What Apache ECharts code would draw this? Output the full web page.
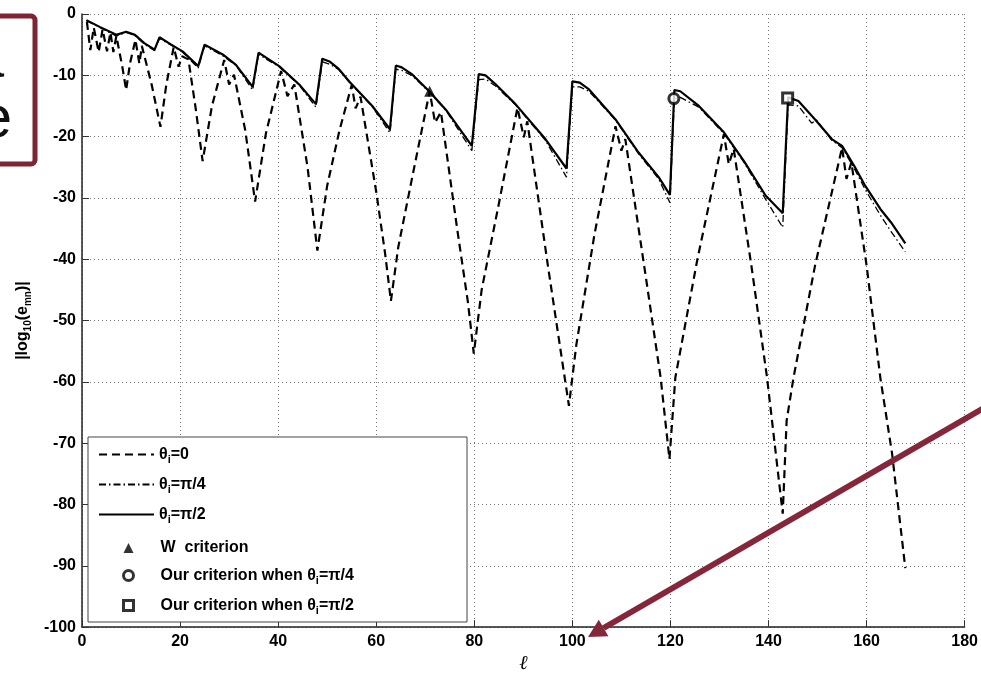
<!DOCTYPE html>
<html>
<head>
<meta charset="utf-8">
<script src="https://cdn.jsdelivr.net/npm/echarts@6/dist/echarts.min.js"></script>
<style>
  html, body { margin: 0; padding: 0; background: #fff; }
  #chart { width: 981px; height: 679px; }
</style>
</head>
<body>
<div id="chart"></div>
<script>
// |log10(e_mn)| versus l
const theta0 = [
  [1,-1.3],[1.7,-5.9],[2.4,-2.2],[3.4,-6.2],[4.2,-2.5],[5.1,-6.1],[5.8,-3.0],[6.4,-6.2],[7.0,-3.6],
  [8.2,-8.5],[9.0,-12.4],[9.8,-8.0],[10.9,-4.2],[11.7,-8.1],[12.2,-5.2],[14.2,-11.5],[16.0,-18.4],
  [17.2,-11.5],[18.7,-5.4],[19.7,-8.6],[20.4,-6.9],[21.7,-7.4],[23.2,-15.5],[24.6,-24.0],[26.5,-15.0],
  [29.0,-7.5],[30.0,-11.5],[31.0,-9.9],[33.3,-19.0],[35.3,-30.6],[37.5,-19.5],[40.6,-9.3],[41.9,-13.4],
  [43.3,-11.5],[46.0,-25.0],[48.0,-38.6],[50.0,-28.0],[52.5,-19.0],[55.0,-11.6],[55.8,-15.4],[56.8,-13.5],
  [60.0,-29.0],[61.8,-39.0],[63.0,-46.8],[64.5,-38.0],[67.5,-26.0],[70.9,-12.6],[72.0,-17.7],[73.2,-16.0],
  [76.5,-35.0],[78.7,-47.0],[79.9,-55.4],[81.5,-45.0],[85.0,-31.0],[88.8,-15.3],[90.1,-20.1],[90.8,-17.5],
  [95.0,-41.0],[98.0,-57.0],[99.3,-63.9],[100.8,-54.0],[104.5,-36.0],[108.8,-18.3],[110.0,-22.3],[110.8,-20.4],
  [115.0,-43.0],[118.0,-59.3],[119.8,-72.6],[121.0,-59.3],[125.5,-40.0],[130.9,-19.6],[131.9,-24.5],[132.9,-22.0],
  [136.5,-41.0],[139.7,-59.3],[142.9,-81.5],[143.7,-66.3],[145.1,-59.3],[149.5,-41.0],[155.0,-21.8],[155.9,-26.9],
  [156.9,-24.2],[160.0,-41.0],[162.8,-59.3],[165.2,-71.7],[167.9,-90.4]
];
const thetaPi4 = [
  [0.9,-1.1],[3.6,-2.2],[7.0,-3.6],[9.0,-3.0],[10.8,-3.5],[12.7,-4.9],[14.8,-6.0],[15.8,-4.0],[18.2,-5.1],
  [20.5,-6.2],[23.7,-8.8],[25.0,-5.2],[28.7,-6.8],[31.4,-8.4],[34.8,-12.4],[36.0,-6.6],[40.2,-8.6],[44.3,-11.6],
  [47.7,-15.2],[49.0,-7.8],[50.6,-8.2],[52.4,-9.1],[54.5,-11.1],[59.2,-15.1],[62.8,-19.4],[64.0,-9.0],[65.2,-9.2],
  [67.4,-10.1],[70.8,-12.7],[74.2,-15.7],[79.5,-22.3],[80.9,-10.7],[82.3,-10.6],[84.4,-11.8],[88.4,-14.8],
  [94.5,-20.6],[98.8,-26.6],[100.0,-11.9],[101.5,-11.9],[103.4,-12.6],[108.8,-17.3],[113.5,-22.8],[117.6,-26.9],
  [119.9,-30.8],[120.8,-13.8],[122.0,-13.6],[125.8,-15.2],[130.9,-19.5],[135.0,-24.2],[139.4,-30.2],[142.9,-34.8],
  [144.0,-14.8],[146.1,-15.0],[148.8,-17.8],[149.8,-17.3],[152.9,-20.6],[155.0,-21.8],[157.5,-25.2],[159.7,-28.6],
  [162.8,-32.8],[165.0,-35.5],[167.9,-38.8]
];
const thetaPi2 = [
  [0.9,-1.0],[3.6,-2.1],[7.0,-3.4],[9.0,-2.9],[10.8,-3.4],[12.7,-4.75],[14.8,-5.8],[15.8,-3.8],[18.2,-5.0],
  [20.5,-6.1],[23.7,-8.5],[25.0,-5.0],[28.7,-6.6],[31.4,-8.3],[34.8,-11.9],[36.0,-6.3],[40.2,-8.5],[44.3,-11.5],
  [47.7,-14.7],[49.0,-7.3],[50.6,-7.8],[52.4,-9.0],[54.5,-11.0],[59.2,-15.0],[62.8,-18.8],[64.0,-8.4],[65.2,-8.7],
  [67.4,-9.9],[70.8,-12.6],[74.2,-15.6],[79.5,-21.5],[80.9,-9.8],[82.3,-10.0],[84.4,-11.5],[88.4,-14.7],
  [94.5,-20.4],[98.8,-25.2],[100.0,-11.0],[101.5,-11.2],[103.4,-12.3],[108.8,-17.2],[113.5,-22.6],[117.6,-26.6],
  [119.9,-29.5],[120.8,-12.4],[122.0,-12.6],[125.8,-15.0],[130.9,-19.3],[135.0,-24.0],[139.4,-29.6],[142.9,-32.5],
  [144.0,-13.6],[146.1,-14.2],[149.5,-17.2],[152.9,-20.4],[155.0,-21.5],[157.5,-24.8],[159.7,-28.0],[162.8,-31.8],
  [165.0,-34.0],[167.9,-37.4]
];
const wCriterion = [[70.9, -12.6]];
const ourPi4 = [[120.7, -13.8]];
const ourPi2 = [[143.9, -13.7]];

const lineNames = ['θi=0', 'θi=π/4', 'θi=π/2'];
const markerNames = ['W criterion', 'Our criterion when θi=π/4', 'Our criterion when θi=π/2'];

const legendText = {
  'θi=0': '{a|θ}{s|i}{a|=0}',
  'θi=π/4': '{a|θ}{s|i}{a|=π/4}',
  'θi=π/2': '{a|θ}{s|i}{a|=π/2}',
  'W criterion': '{f|W  criterion}',
  'Our criterion when θi=π/4': '{f|Our criterion when θ}{s|i}{a|=π/4}',
  'Our criterion when θi=π/2': '{f|Our criterion when θ}{s|i}{a|=π/2}'
};

const FONT = 'Liberation Sans, Arial, sans-serif';
const rich = {
  a: { fontFamily: FONT, fontSize: 16, fontWeight: 'bold', color: '#000', lineHeight: 22 },
  f: { fontFamily: FONT, fontSize: 16, fontWeight: 'bold', color: '#000', lineHeight: 22, padding: [0, 0, 0, 22] },
  s: { fontFamily: FONT, fontSize: 11, fontWeight: 'bold', color: '#000', lineHeight: 12, padding: [10, 0, 0, 0] }
};

const chart = echarts.init(document.getElementById('chart'));

const legendBase = {
  orient: 'vertical',
  padding: 0,
  itemGap: 9,
  selectedMode: false,
  z: 10,
  formatter: name => legendText[name],
  textStyle: { rich: rich }
};

const hollow = { color: '#fff', borderColor: '#000', borderWidth: 3 };

chart.setOption({
  animation: false,
  backgroundColor: '#fff',
  grid: { left: 82, right: 14, top: 14, bottom: 48 },
  xAxis: {
    type: 'value', min: 0, max: 180, interval: 20,
    name: 'ℓ', nameLocation: 'middle', nameGap: 26,
    nameTextStyle: { fontFamily: 'DejaVu Serif', fontStyle: 'italic', fontSize: 20, color: '#000' },
    axisLine: { onZero: false, lineStyle: { color: '#222', width: 1.5 } },
    axisTick: { inside: true, length: 7, lineStyle: { color: '#333' } },
    axisLabel: { margin: 6, color: '#000', fontFamily: FONT, fontWeight: 'bold', fontSize: 16 },
    splitLine: { show: true, lineStyle: { color: '#777', type: [1, 3], width: 1 } }
  },
  yAxis: {
    type: 'value', min: -100, max: 0, interval: 10,
    name: '{n||log}{s|10}{n|(e}{s|mn}{n|)|}', nameLocation: 'middle', nameGap: 44,
    nameTextStyle: {
      rich: {
        n: { fontFamily: FONT, fontSize: 16, fontWeight: 'bold', color: '#000', lineHeight: 22 },
        s: { fontFamily: FONT, fontSize: 10, fontWeight: 'bold', color: '#000', lineHeight: 12, padding: [10, 0, 0, 0] }
      }
    },
    axisLine: { onZero: false, lineStyle: { color: '#222', width: 1.5 } },
    axisTick: { inside: true, length: 7, lineStyle: { color: '#333' } },
    axisLabel: { margin: 6, color: '#000', fontFamily: FONT, fontWeight: 'bold', fontSize: 16 },
    splitLine: { show: true, lineStyle: { color: '#777', type: [1, 3], width: 1 } }
  },
  legend: [
    Object.assign({}, legendBase, {
      left: 98, top: 444, itemWidth: 55, itemHeight: 14,
      data: lineNames.map(n => ({ name: n, itemStyle: { opacity: 0 } }))
    }),
    Object.assign({}, legendBase, {
      left: 122, top: 540, itemWidth: 10, itemHeight: 10,
      data: [
        { name: markerNames[0], itemStyle: { color: '#000' } },
        { name: markerNames[1], itemStyle: hollow },
        { name: markerNames[2], itemStyle: hollow }
      ]
    })
  ],
  series: [
    {
      name: lineNames[0], type: 'line', data: theta0, symbol: 'none', z: 2,
      itemStyle: { color: '#000' },
      lineStyle: { color: '#000', width: 2.2, type: [8, 5] }
    },
    {
      name: lineNames[1], type: 'line', data: thetaPi4, symbol: 'none', z: 3,
      itemStyle: { color: '#000' },
      lineStyle: { color: '#000', width: 1.3, type: [7, 3, 1.5, 3] }
    },
    {
      name: lineNames[2], type: 'line', data: thetaPi2, symbol: 'none', z: 4,
      itemStyle: { color: '#000' },
      lineStyle: { color: '#000', width: 2.2 }
    },
    {
      name: markerNames[0], type: 'scatter', data: wCriterion, symbol: 'triangle', symbolSize: 11, z: 6,
      itemStyle: { color: '#000' }
    },
    {
      name: markerNames[1], type: 'scatter', data: ourPi4, symbol: 'circle', symbolSize: 10, z: 6,
      itemStyle: hollow
    },
    {
      name: markerNames[2], type: 'scatter', data: ourPi2, symbol: 'rect', symbolSize: 10, z: 6,
      itemStyle: hollow
    }
  ],
  graphic: [
    // legend frame
    { type: 'rect', z: 5, silent: true, shape: { x: 88, y: 437, width: 379, height: 185 },
      style: { fill: '#fff', stroke: '#444', lineWidth: 1 } },
    // cropped callout box at top left
    { type: 'rect', z: 20, silent: true, shape: { x: -20, y: 16, width: 55, height: 148, r: 4 },
      style: { fill: 'none', stroke: '#7f2434', lineWidth: 5 } },
    { type: 'text', z: 20, silent: true,
      style: { text: 'a', x: 4, y: 60, align: 'right', verticalAlign: 'middle', fontSize: 60, fontFamily: FONT, fill: '#111' } },
    { type: 'text', z: 20, silent: true,
      style: { text: 'e', x: 12, y: 120, align: 'right', verticalAlign: 'middle', fontSize: 60, fontFamily: FONT, fill: '#111' } },
    // arrow
    { type: 'line', z: 20, silent: true, shape: { x1: 990, y1: 404.4, x2: 603.6, y2: 628 },
      style: { stroke: '#85263a', lineWidth: 6 } },
    { type: 'polygon', z: 20, silent: true,
      shape: { points: [[588, 637], [608.4, 636.2], [598.8, 619.8]] },
      style: { fill: '#85263a' } }
  ]
});
</script>
</body>
</html>
